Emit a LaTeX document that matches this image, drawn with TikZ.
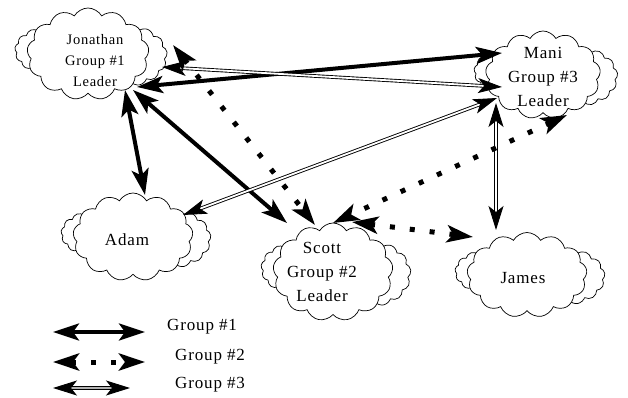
\documentclass[tikz,border=0pt]{standalone}
\usepackage{fontspec}
\setmainfont{Liberation Serif}[LetterSpace=5]
\usetikzlibrary{shapes.symbols,arrows.meta,calc}
\newcommand{\cloudstack}[5]{%
  \node[cl, minimum width={0.5*#4}, minimum height={0.5*#5}] (#1L) at ({#2-0.35*#4},{#3-0.04*#5}) {};
  \node[cl, minimum width={0.6*#4}, minimum height={0.65*#5}] (#1R) at ({#2+0.35*#4},{#3+0.02*#5}) {};
  \node[cl, minimum width={#4}, minimum height={#5}] (#1) at (#2,#3) {};
}
\begin{document}
\begin{tikzpicture}[x=1pt,y=-1pt,
  cl/.style={cloud, cloud puffs=13, cloud puff arc=120, cloud ignores aspect, draw, fill=white, line width=0.7pt, inner sep=0pt},
  lbl/.style={align=center, font=\fontsize{17}{24}\selectfont, inner sep=0pt},
  leg/.style={font=\fontsize{17}{20}\selectfont, inner sep=0pt, anchor=west},
  bigtip/.tip={Stealth[length=26pt,width=17pt,inset=6pt]},
  g1/.style={line width=4pt, bigtip-bigtip},
  g2/.style={line width=5pt, dash pattern=on 5pt off 15pt, bigtip-bigtip},
  g3/.style={double=white, double distance=1.8pt, line width=0.9pt, {Stealth[length=24pt,width=15pt,inset=6pt]}-{Stealth[length=24pt,width=15pt,inset=6pt]}}
]
\useasboundingbox (0,0) rectangle (628,398);
\fill[white] (0,0) rectangle (628,398);
% clouds
\cloudstack{jon}{88}{54}{122}{92}
\cloudstack{mani}{543}{75}{115}{88}
\cloudstack{adam}{133}{237}{120}{88}
\cloudstack{scott}{333}{272}{120}{98}
\cloudstack{james}{527}{275}{120}{85}
% texts
\node[lbl, font=\fontsize{14.5}{21}\selectfont] (jont) at (95,61) {Jonathan\\Group \#1\\Leader};
\node[lbl] (manit) at (543,77) {Mani\\Group \#3\\Leader};
\node[lbl] (adamt) at (127,240) {Adam};
\node[lbl] (scottt) at (322,272) {Scott\\Group \#2\\Leader};
\node[lbl] (jamest) at (523,278) {James};
% connectors
\draw[g1] ([shift={(49,33)}]jon.center) -- ([shift={(-41,-22)}]mani.center);
\draw[g3] ([shift={(74,13)}]jon.center) -- ([shift={(-41,12)}]mani.center);
\draw[g1] ([shift={(37,36)}]jon.center) -- ([shift={(12,-42)}]adam.center);
\draw[g1] ([shift={(45,36)}]jon.center) -- ([shift={(-46,-49)}]scott.center);
\draw[g3] ([shift={(-46,23)}]mani.center) -- ([shift={(50,-22)}]adam.center);
\draw[g3] ([shift={(-47,28)}]mani.center) -- ([shift={(-31,-45)}]james.center);
\draw[g2] ([shift={(24,40)}]mani.center) -- ([shift={(0,-49)}]scott.center);
\draw[g2] ([shift={(19,-50)}]scott.center) -- ([shift={(-54,-38)}]james.center);
\draw[g2] ([shift={(85,-9)}]jon.center) -- ([shift={(-18,-47)}]scott.center);
% legend
\coordinate (l1a) at (53,332); \coordinate (l1b) at (145,332);
\coordinate (l2a) at (53,362); \coordinate (l2b) at (145,362);
\coordinate (l3a) at (53,388); \coordinate (l3b) at (130,388);
\draw[g1] (l1a) -- (l1b);
\draw[g2] (l2a) -- (l2b);
\draw[g3, double=gray!60] (l3a) -- (l3b);
\node[leg] (t1) at (167,327) {Group \#1};
\node[leg] (t2) at (175,357) {Group \#2};
\node[leg] (t3) at (175,385) {Group \#3};
\end{tikzpicture}
\end{document}
